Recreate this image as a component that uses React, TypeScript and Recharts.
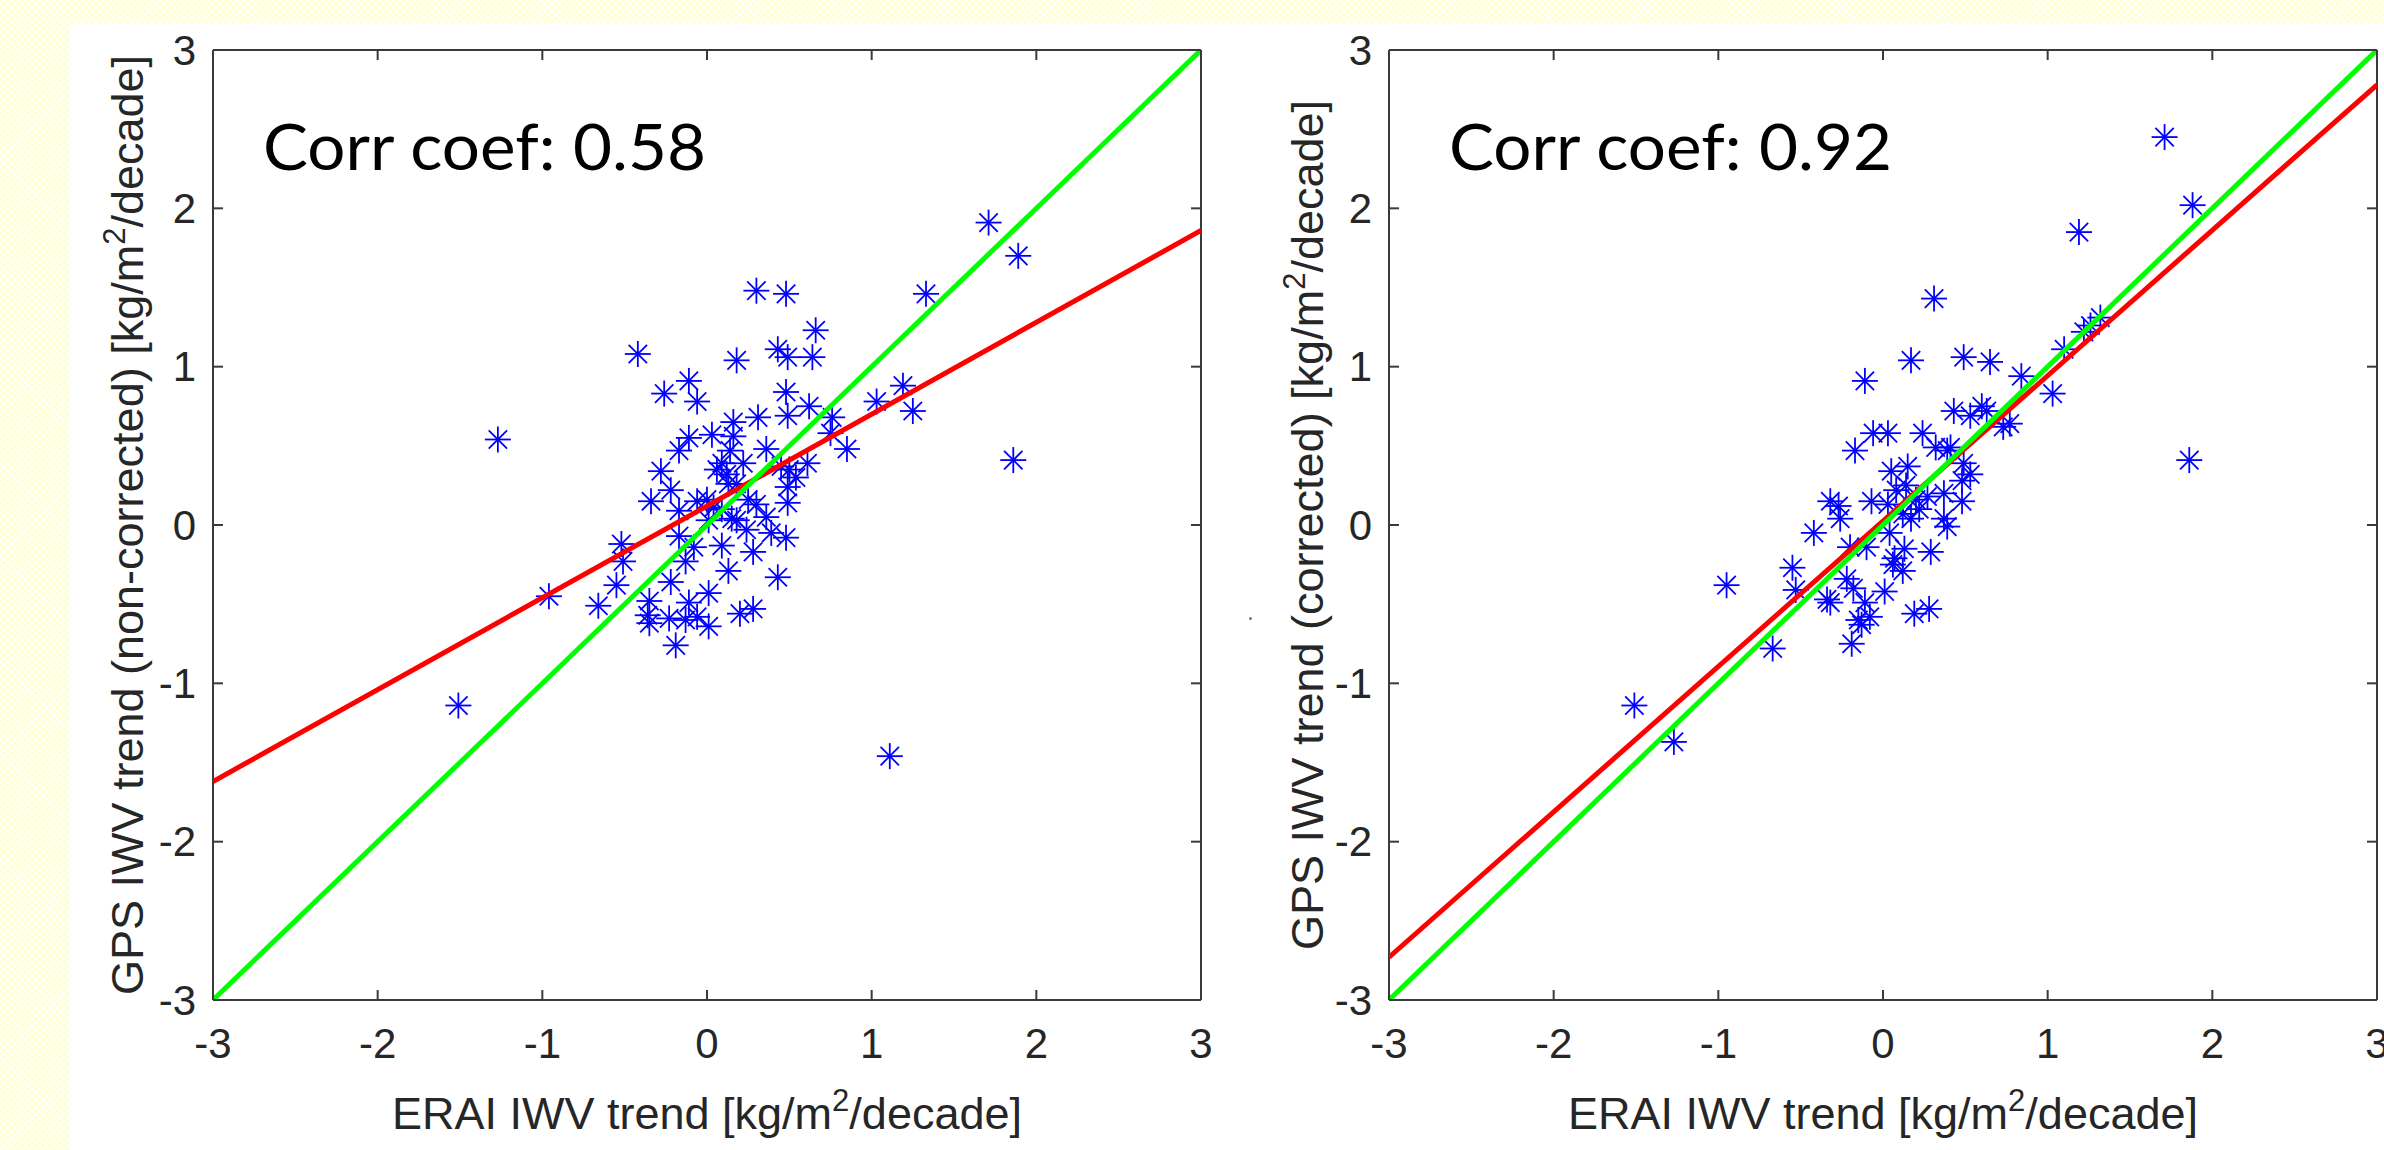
import React from 'react';
import { ScatterChart, Scatter, XAxis, YAxis } from 'recharts';

// ERAI trend (x) vs GPS trend (y), kg/m2/decade
const AXIS_TICKS = [-3, -2, -1, 0, 1, 2, 3];

const nonCorrectedPoints: [number, number][] = [
  [1.71, 1.91], [1.89, 1.70], [1.86, 0.41], [1.11, -1.46], [1.33, 1.46], [1.19, 0.88],
  [1.25, 0.72], [1.03, 0.78], [-1.27, 0.54], [-1.51, -1.14], [-0.96, -0.45], [0.30, 1.48],
  [0.48, 1.46], [0.66, 1.23], [-0.42, 1.08], [0.18, 1.04], [0.43, 1.11], [0.49, 1.06],
  [0.64, 1.06], [-0.11, 0.91], [-0.26, 0.83], [-0.06, 0.78], [0.48, 0.84], [0.62, 0.75],
  [0.49, 0.69], [0.31, 0.68], [0.16, 0.65], [0.76, 0.68], [0.85, 0.48], [0.75, 0.58],
  [-0.11, 0.55], [-0.17, 0.47], [0.03, 0.57], [0.16, 0.56], [0.14, 0.47], [0.36, 0.48],
  [0.09, 0.39], [0.22, 0.39], [-0.28, 0.34], [-0.22, 0.22], [-0.34, 0.15], [-0.06, 0.15],
  [0.04, 0.11], [0.13, 0.26], [0.50, 0.35], [0.54, 0.30], [0.49, 0.24], [0.45, 0.37],
  [0.61, 0.39], [0.49, 0.14], [0.25, 0.16], [-0.17, 0.09], [0.15, 0.04], [0.36, 0.05],
  [-0.17, -0.07], [0.09, -0.13], [-0.08, -0.14], [0.39, -0.05], [0.48, -0.08], [0.28, -0.17],
  [-0.52, -0.12], [-0.51, -0.23], [-0.13, -0.23], [0.13, -0.29], [0.43, -0.33], [-0.55, -0.38],
  [-0.22, -0.36], [0.01, -0.43], [-0.66, -0.51], [-0.35, -0.48], [-0.11, -0.49], [0.20, -0.56],
  [0.28, -0.53], [-0.35, -0.62], [-0.23, -0.59], [-0.13, -0.60], [0.01, -0.64], [-0.36, -0.57],
  [-0.19, -0.76], [-0.06, -0.58], [0.06, 0.35], [0.12, 0.32], [0.18, 0.26], [0.00, 0.16],
  [0.09, 0.10], [0.18, 0.03], [0.30, 0.13], [0.24, -0.03], [0.01, 0.03],
];

const correctedPoints: [number, number][] = [
  [1.71, 2.45], [1.88, 2.02], [1.19, 1.85], [1.86, 0.41], [1.03, 0.83], [0.84, 0.94],
  [1.10, 1.11], [1.22, 1.22], [1.26, 1.26], [1.32, 1.31], [-1.51, -1.14], [-1.27, -1.37],
  [-0.95, -0.38], [-0.55, -0.27], [-0.53, -0.41], [-0.67, -0.78], [0.31, 1.43], [0.17, 1.04],
  [0.49, 1.06], [0.65, 1.03], [-0.11, 0.91], [0.43, 0.72], [0.53, 0.69], [0.60, 0.75],
  [0.63, 0.72], [0.73, 0.62], [0.77, 0.64], [-0.06, 0.58], [0.03, 0.58], [-0.17, 0.47],
  [0.24, 0.58], [0.32, 0.49], [0.39, 0.47], [0.41, 0.49], [0.49, 0.39], [0.53, 0.32],
  [0.48, 0.28], [0.05, 0.34], [0.15, 0.37], [0.14, 0.25], [-0.32, 0.15], [-0.27, 0.12],
  [-0.26, 0.04], [-0.42, -0.05], [-0.07, 0.15], [0.03, 0.13], [0.20, 0.16], [0.27, 0.18],
  [0.37, 0.20], [0.48, 0.15], [0.12, 0.07], [0.17, 0.04], [0.37, 0.04], [0.39, -0.01],
  [-0.20, -0.14], [-0.10, -0.14], [0.04, -0.05], [0.13, -0.15], [0.07, -0.21], [0.29, -0.17],
  [-0.22, -0.34], [-0.18, -0.40], [0.06, -0.25], [0.12, -0.29], [0.01, -0.42], [-0.34, -0.47],
  [-0.32, -0.49], [-0.11, -0.49], [-0.15, -0.60], [-0.08, -0.58], [0.19, -0.56], [0.28, -0.53],
  [-0.19, -0.75], [-0.13, -0.63], [0.08, 0.22], [0.22, 0.10],
];

const nonCorrectedFit: [number, number][] = [[-3, -1.62], [3, 1.86]];
const correctedFit: [number, number][] = [[-3, -2.73], [3, 2.78]];
const oneToOne: [number, number][] = [[-3, -3], [3, 3]];

const corrLabels = ['Corr coef: 0.58', 'Corr coef: 0.92'];
const yTitles = ['GPS IWV trend (non-corrected) [kg/m', 'GPS IWV trend (corrected) [kg/m'];
const xTitle = 'ERAI IWV trend [kg/m';

const AXIS = '#3a3a3a';
const TEXT = '#262626';
const SANS = '"Liberation Sans", Arial, Helvetica, sans-serif';
const TICK_LEN = 10;

const toXY = (pts: [number, number][]) => pts.map(([x, y]) => ({ x, y }));

const Asterisk = (p: any) => {
  const { cx, cy } = p;
  if (cx == null || cy == null) return <g />;
  const r = 13;
  const d = r * 0.7071;
  return (
    <g stroke="#0000FF" strokeWidth={1.8}>
      <line x1={cx - r} y1={cy} x2={cx + r} y2={cy} />
      <line x1={cx} y1={cy - r} x2={cx} y2={cy + r} />
      <line x1={cx - d} y1={cy - d} x2={cx + d} y2={cy + d} />
      <line x1={cx - d} y1={cy + d} x2={cx + d} y2={cy - d} />
    </g>
  );
};

const NoDot = () => <g />;

const BottomTick = (p: any) => (
  <g>
    <line x1={p.x} y1={p.y} x2={p.x} y2={p.y - TICK_LEN} stroke={AXIS} strokeWidth={2} />
    <text x={p.x} y={p.y + 58} textAnchor="middle" fontSize={42} fill={TEXT} fontFamily={SANS}>
      {p.payload.value}
    </text>
  </g>
);

const TopTick = (p: any) => (
  <line x1={p.x} y1={p.y} x2={p.x} y2={p.y + TICK_LEN} stroke={AXIS} strokeWidth={2} />
);

const LeftTick = (p: any) => (
  <g>
    <line x1={p.x} y1={p.y} x2={p.x + TICK_LEN} y2={p.y} stroke={AXIS} strokeWidth={2} />
    <text x={p.x - 17} y={p.y} dy="0.35em" textAnchor="end" fontSize={42} fill={TEXT} fontFamily={SANS}>
      {p.payload.value}
    </text>
  </g>
);

const RightTick = (p: any) => (
  <line x1={p.x} y1={p.y} x2={p.x - TICK_LEN} y2={p.y} stroke={AXIS} strokeWidth={2} />
);

const withSquare = (head: string) => (
  <>
    {head}
    <tspan dy={-18} fontSize={31}>2</tspan>
    <tspan dy={18}>/decade]</tspan>
  </>
);

interface PanelProps {
  left: number;
  width: number;
  marginLeft: number;
  marginRight: number;
  points: [number, number][];
  fit: [number, number][];
  corr: string;
  corrOffset: number;
  yTitle: string;
  yTitleOffset: number;
}

const Panel = ({ left, width, marginLeft, marginRight, points, fit, corr, corrOffset, yTitle, yTitleOffset }: PanelProps) => (
  <div style={{ position: 'absolute', left, top: 0 }}>
    <ScatterChart width={width} height={1150} margin={{ top: 49, right: marginRight, bottom: 149, left: marginLeft }}>
      <XAxis
        xAxisId="b" type="number" dataKey="x" domain={[-3, 3]} ticks={AXIS_TICKS} interval={0}
        allowDataOverflow height={1} tickSize={0} tickMargin={0} tickLine={false}
        axisLine={{ stroke: AXIS, strokeWidth: 2 }} tick={<BottomTick />}
        label={{
          content: (lp: any) => {
            const vb = lp.viewBox;
            return (
              <text x={vb.x + vb.width / 2} y={vb.y + 129} textAnchor="middle" fontSize={45} fill={TEXT} fontFamily={SANS}>
                {withSquare(xTitle)}
              </text>
            );
          },
        }}
      />
      <XAxis
        xAxisId="t" orientation="top" type="number" dataKey="x" domain={[-3, 3]} ticks={AXIS_TICKS} interval={0}
        allowDataOverflow height={1} tickSize={0} tickMargin={0} tickLine={false}
        axisLine={{ stroke: AXIS, strokeWidth: 2 }} tick={<TopTick />}
        label={{
          content: (lp: any) => {
            const vb = lp.viewBox;
            return (
              <text x={vb.x + corrOffset} y={vb.y + vb.height + 120} fontSize={63} fill="#000"
                fontFamily="Lato, 'Open Sans', sans-serif" textLength={443} lengthAdjust="spacingAndGlyphs">
                {corr}
              </text>
            );
          },
        }}
      />
      <YAxis
        yAxisId="l" type="number" dataKey="y" domain={[-3, 3]} ticks={AXIS_TICKS} interval={0}
        allowDataOverflow width={100} tickSize={0} tickMargin={0} tickLine={false}
        axisLine={{ stroke: AXIS, strokeWidth: 2 }} tick={<LeftTick />}
        label={{
          content: (lp: any) => {
            const vb = lp.viewBox;
            const x = vb.x + vb.width - yTitleOffset;
            const cy = vb.y + vb.height / 2;
            return (
              <text x={x} y={cy} transform={`rotate(-90 ${x} ${cy})`} textAnchor="middle" fontSize={45} fill={TEXT} fontFamily={SANS}>
                {withSquare(yTitle)}
              </text>
            );
          },
        }}
      />
      <YAxis
        yAxisId="r" orientation="right" type="number" dataKey="y" domain={[-3, 3]} ticks={AXIS_TICKS} interval={0}
        allowDataOverflow width={1} tickSize={0} tickMargin={0} tickLine={false}
        axisLine={{ stroke: AXIS, strokeWidth: 2 }} tick={<RightTick />}
      />
      <Scatter xAxisId="b" yAxisId="l" data={toXY(points)} shape={Asterisk} isAnimationActive={false} />
      <Scatter xAxisId="b" yAxisId="l" data={toXY(fit)} shape={NoDot} line={{ stroke: '#FF0000', strokeWidth: 5 }} isAnimationActive={false} />
      <Scatter xAxisId="b" yAxisId="l" data={toXY(oneToOne)} shape={NoDot} line={{ stroke: '#00FF00', strokeWidth: 5 }} isAnimationActive={false} />
    </ScatterChart>
  </div>
);

export default function App() {
  return (
    <div
      style={{
        position: 'absolute', left: 0, top: 0, width: 2384, height: 1150, overflow: 'hidden',
        backgroundColor: '#FFFFD4',
        backgroundImage:
          'repeating-linear-gradient(45deg, rgba(255,255,255,0.75) 0px, rgba(255,255,255,0.75) 1.5px, transparent 1.5px, transparent 5px),' +
          'repeating-linear-gradient(-45deg, rgba(255,255,255,0.75) 0px, rgba(255,255,255,0.75) 1.5px, transparent 1.5px, transparent 5px)',
      }}
    >
      <div style={{ position: 'absolute', left: 69, top: 24, right: 0, bottom: 0, background: '#fff' }} />
      <Panel
        left={0} width={1240} marginLeft={113} marginRight={38}
        points={nonCorrectedPoints} fit={nonCorrectedFit} corr={corrLabels[0]} corrOffset={50}
        yTitle={yTitles[0]} yTitleOffset={70}
      />
      <Panel
        left={1200} width={1184} marginLeft={89} marginRight={6}
        points={correctedPoints} fit={correctedFit} corr={corrLabels[1]} corrOffset={60}
        yTitle={yTitles[1]} yTitleOffset={66}
      />
      <div style={{ position: 'absolute', left: 1249, top: 617, width: 3, height: 3, borderRadius: 2, background: '#777' }} />
    </div>
  );
}
